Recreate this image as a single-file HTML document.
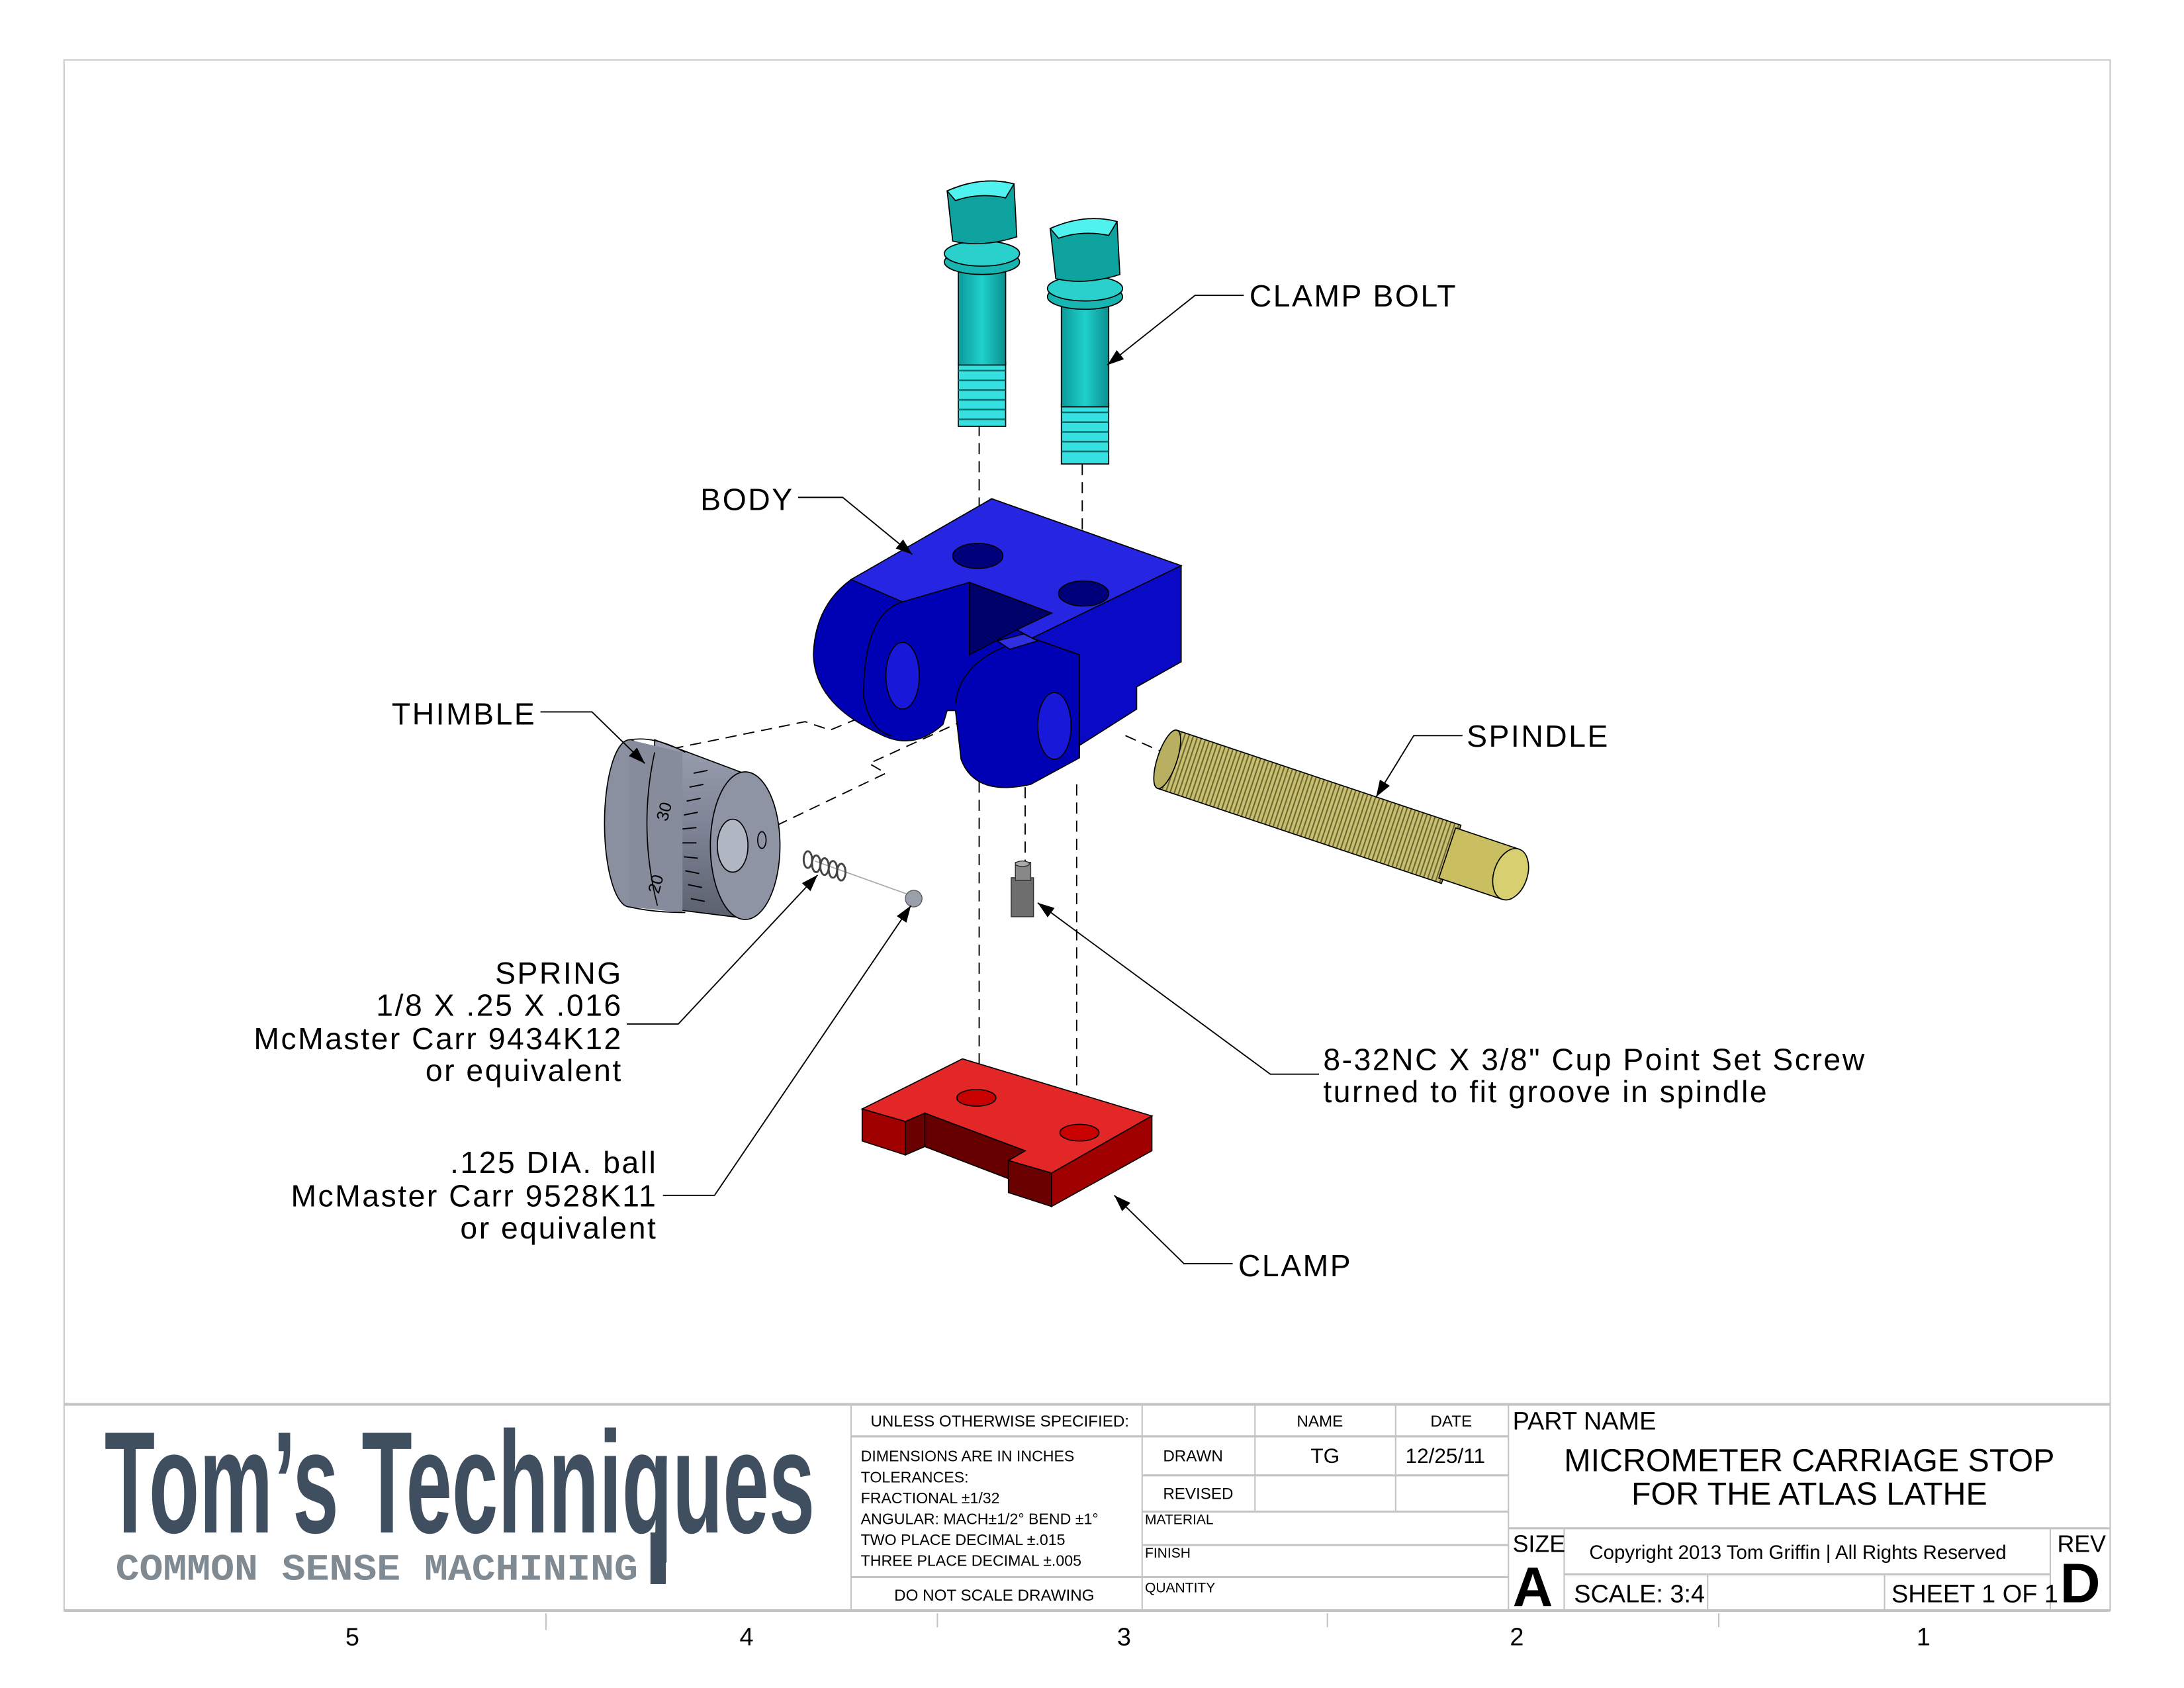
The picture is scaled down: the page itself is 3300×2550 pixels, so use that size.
<!DOCTYPE html>
<html><head><meta charset="utf-8"><style>html,body{margin:0;padding:0;background:#fff}svg{display:block}</style></head>
<body>
<svg width="3300" height="2550" viewBox="0 0 1568 1211.6" xmlns="http://www.w3.org/2000/svg" font-family="Liberation Sans, sans-serif">
<defs>
<marker id="ar" viewBox="0 0 10 10" refX="10" refY="5" markerWidth="12" markerHeight="12" markerUnits="userSpaceOnUse" orient="auto"><path d="M0,1.5 L10,5 L0,8.5 z" fill="#000"/></marker>
<linearGradient id="cy" x1="0" x2="1"><stop offset="0" stop-color="#0b9a9a"/><stop offset="0.5" stop-color="#1fd0cc"/><stop offset="1" stop-color="#0a8f8f"/></linearGradient>
<linearGradient id="gy" x1="0" x2="0" y1="0" y2="1"><stop offset="0" stop-color="#9aa0b0"/><stop offset="0.5" stop-color="#7d8394"/><stop offset="1" stop-color="#5b606e"/></linearGradient>
<pattern id="thr" width="3" height="10" patternUnits="userSpaceOnUse"><rect width="3" height="10" fill="#c8c070"/><rect width="1" height="10" fill="#6b6530"/></pattern>
</defs>
<rect width="1568" height="1211.6" fill="#fff"/>
<rect x="46" y="43" width="1469" height="1113" fill="none" stroke="#c8c8c8" stroke-width="1"/>

<g stroke="#000" stroke-width="0.9" fill="none" stroke-dasharray="8,5">
<line x1="703" y1="305" x2="703" y2="400"/><line x1="777" y1="333" x2="777" y2="427"/>
<line x1="703" y1="548" x2="703" y2="790"/><line x1="773" y1="563" x2="773" y2="810"/>
<line x1="736" y1="565" x2="736" y2="620"/>
<polyline points="470,540 578,518 596,524 630,510"/>
<polyline points="546,598 636,555 624,548 690,518"/>
<line x1="808" y1="528" x2="835" y2="540"/>
</g>
<line x1="585" y1="618" x2="652" y2="642" stroke="#aaa" stroke-width="0.8"/>

<g stroke="#000" stroke-width="0.8">
<rect x="688" y="260" width="34" height="46" fill="#36e0e0"/>
<g stroke="#0a7070" stroke-width="1.2"><line x1="688" y1="266" x2="722" y2="266"/><line x1="688" y1="273" x2="722" y2="273"/><line x1="688" y1="280" x2="722" y2="280"/><line x1="688" y1="287" x2="722" y2="287"/><line x1="688" y1="294" x2="722" y2="294"/><line x1="688" y1="301" x2="722" y2="301"/></g>
<rect x="688" y="190" width="34" height="72" fill="url(#cy)"/>
<ellipse cx="705" cy="188" rx="27" ry="9" fill="#17b5b2"/>
<ellipse cx="705" cy="182" rx="27" ry="9" fill="#2ad0cc"/>
<path d="M680,137 Q705,126 728,132 L730,170 Q705,178 684,173 Z" fill="#0fa3a0"/>
<path d="M680,137 Q705,126 728,132 L722,142 Q703,138 686,144 Z" fill="#4ff2ee"/>
</g>
<g stroke="#000" stroke-width="0.8">
<rect x="762" y="290" width="34" height="43" fill="#36e0e0"/>
<g stroke="#0a7070" stroke-width="1.2"><line x1="762" y1="296" x2="796" y2="296"/><line x1="762" y1="303" x2="796" y2="303"/><line x1="762" y1="310" x2="796" y2="310"/><line x1="762" y1="317" x2="796" y2="317"/><line x1="762" y1="324" x2="796" y2="324"/></g>
<rect x="762" y="216" width="34" height="76" fill="url(#cy)"/>
<ellipse cx="779" cy="213" rx="27" ry="9" fill="#17b5b2"/>
<ellipse cx="779" cy="207" rx="27" ry="9" fill="#2ad0cc"/>
<path d="M754,164 Q779,153 802,159 L804,197 Q779,205 758,200 Z" fill="#0fa3a0"/>
<path d="M754,164 Q779,153 802,159 L796,169 Q777,165 760,171 Z" fill="#4ff2ee"/>
</g>

<g stroke="#000" stroke-width="0.8">
<path d="M611,416 L712,358 L848,406 L848,475 L816,493 L816,509 L775,535 L775,544 L740,563 Q700,572 690,545 L686,510 L680,510 L677,520 Q655,540 630,526 Q585,505 584,470 Q585,435 611,416 Z" fill="#0000b4"/>
<path d="M611,416 L712,358 L848,406 L741,458 L730,452 L755,440 L696,418 L648,432 Z" fill="#2626e2"/>
<path d="M848,406 L848,475 L816,493 L816,509 L775,535 L775,470 L741,458 Z" fill="#0a0ac6"/>
<path d="M696,418 L755,440 L730,452 L696,470 Z" fill="#00006a"/>
<path d="M686,505 Q690,470 741,458 L775,470 L775,535" fill="none"/>
<path d="M648,432 Q620,440 620,500 Q625,525 640,528" fill="none"/>
<ellipse cx="702" cy="399" rx="18" ry="9" fill="#00007a"/>
<ellipse cx="778" cy="426" rx="18" ry="9" fill="#00007a"/>
<ellipse cx="648" cy="485" rx="12" ry="24" fill="#1818d8"/>
<ellipse cx="757" cy="521" rx="12" ry="24" fill="#1818d8"/>
<path d="M716,460 L735,455 L745,460 L725,466 Z" fill="#3030e0"/>
</g>

<g transform="translate(838,545) rotate(18.5)" stroke="#000" stroke-width="0.8">
<rect x="0" y="-22" width="215" height="44" fill="url(#thr)"/>
<rect x="212" y="-19" width="48" height="38" fill="#c9bf60"/>
<ellipse cx="0" cy="0" rx="7" ry="22" fill="#b8b060"/>
<ellipse cx="260" cy="0" rx="12" ry="19" fill="#d8d070"/>
</g>

<g stroke="#000" stroke-width="0.8">
<path d="M470,531 L534,555 L534,659 L470,651 Z" fill="url(#gy)"/>
<ellipse cx="452" cy="591" rx="18" ry="60" fill="#8a90a0"/>
<path d="M452,531 L490,540 L490,655 L452,651 Z" fill="#868c9c" stroke="none"/>
<path d="M452,531 Q470,528 492,540 M452,651 Q470,655 492,655" fill="none"/>
<path d="M470,540 Q458,595 472,650" fill="none"/>
<ellipse cx="535" cy="607" rx="25" ry="53" fill="#8e94a4"/>
<ellipse cx="526" cy="607" rx="11" ry="19" fill="#b0b6c2"/>
<ellipse cx="547" cy="603" rx="3" ry="6" fill="none"/>
<g stroke-width="0.9"><line x1="498" y1="555" x2="508" y2="553"/><line x1="495" y1="565" x2="505" y2="563"/><line x1="493" y1="575" x2="503" y2="573"/><line x1="491" y1="585" x2="501" y2="583"/><line x1="490" y1="595" x2="500" y2="594"/><line x1="490" y1="605" x2="500" y2="605"/><line x1="491" y1="615" x2="501" y2="616"/><line x1="492" y1="625" x2="502" y2="627"/><line x1="494" y1="635" x2="504" y2="637"/><line x1="496" y1="645" x2="506" y2="647"/></g>
<text x="0" y="0" font-size="12" transform="translate(479,590) rotate(-75)" fill="#000" stroke="none">30</text>
<text x="0" y="0" font-size="12" transform="translate(473,642) rotate(-75)" fill="#000" stroke="none">20</text>
</g>
<g stroke="#444" stroke-width="1.4" fill="none">
<ellipse cx="580" cy="617" rx="3" ry="6"/><ellipse cx="586" cy="620" rx="3" ry="6"/><ellipse cx="592" cy="622" rx="3" ry="6"/><ellipse cx="598" cy="624" rx="3" ry="6"/><ellipse cx="604" cy="626" rx="3" ry="6"/>
</g>
<circle cx="656" cy="645" r="6" fill="#9aa0aa" stroke="#555" stroke-width="0.6"/>
<g stroke="#333" stroke-width="0.7">
<rect x="726" y="630" width="16" height="28" fill="#6e6e6e"/>
<rect x="729" y="619" width="11" height="13" fill="#888"/>
<ellipse cx="734" cy="620" rx="5" ry="2" fill="#aaa"/>
</g>

<g stroke="#000" stroke-width="0.8">
<path d="M619,796 L691,760 L827,801 L755,842 L724,833 L736,826 L664,799 L650,805 Z" fill="#e32626"/>
<path d="M619,796 L650,805 L650,829 L619,819 Z" fill="#a00000"/>
<path d="M650,805 L664,799 L664,823 L650,829 Z" fill="#6a0000"/>
<path d="M664,799 L736,826 L724,833 L724,846 L664,823 Z" fill="#660000"/>
<path d="M724,833 L755,842 L755,866 L724,856 Z" fill="#6a0000"/>
<path d="M755,842 L827,801 L827,826 L755,866 Z" fill="#a00000"/>
<ellipse cx="701" cy="788" rx="14" ry="6" fill="#c80000"/>
<ellipse cx="775" cy="813" rx="14" ry="6" fill="#c80000"/>
</g>

<g stroke="#000" stroke-width="0.9" fill="none" marker-end="url(#ar)">
<polyline points="893,212 858,212 795,262"/>
<polyline points="573,357 605,357 655,398"/>
<polyline points="388,511 425,511 463,548"/>
<polyline points="1050,528 1015,528 988,572"/>
<polyline points="450,735 487,735 587,628"/>
<polyline points="476,858 513,858 654,650"/>
<polyline points="947,771 912,771 745,648"/>
<polyline points="885,907 850,907 800,858"/>
</g>

<g font-size="22" fill="#000" letter-spacing="1.2">
<text x="897" y="220">CLAMP BOLT</text>
<text x="570" y="366" text-anchor="end">BODY</text>
<text x="385" y="520" text-anchor="end">THIMBLE</text>
<text x="1053" y="536">SPINDLE</text>
<text x="447" y="706" text-anchor="end">SPRING</text>
<text x="447" y="729" text-anchor="end">1/8 X .25 X .016</text>
<text x="447" y="753" text-anchor="end">McMaster Carr 9434K12</text>
<text x="447" y="776" text-anchor="end">or equivalent</text>
<text x="472" y="842" text-anchor="end">.125 DIA. ball</text>
<text x="472" y="866" text-anchor="end">McMaster Carr 9528K11</text>
<text x="472" y="889" text-anchor="end">or equivalent</text>
<text x="950" y="768">8-32NC X 3/8" Cup Point Set Screw</text>
<text x="950" y="791">turned to fit groove in spindle</text>
<text x="889" y="916">CLAMP</text>
</g>

<g stroke="#c4c4c4" fill="none">
<line x1="46" y1="1008" x2="1515" y2="1008" stroke-width="2"/>
<line x1="46" y1="1156" x2="1515" y2="1156" stroke-width="2"/>
<line x1="611" y1="1008" x2="611" y2="1156"/>
<line x1="820" y1="1008" x2="820" y2="1156"/>
<line x1="901" y1="1008" x2="901" y2="1085"/>
<line x1="1002" y1="1008" x2="1002" y2="1085"/>
<line x1="1083" y1="1008" x2="1083" y2="1156"/>
<line x1="611" y1="1031" x2="1083" y2="1031" stroke-width="1.5"/>
<line x1="820" y1="1059" x2="1083" y2="1059" stroke-width="1.5"/>
<line x1="820" y1="1085" x2="1083" y2="1085" stroke-width="1.5"/>
<line x1="820" y1="1109" x2="1083" y2="1109" stroke-width="1.5"/>
<line x1="611" y1="1132" x2="1083" y2="1132" stroke-width="1.5"/>
<line x1="1083" y1="1097" x2="1515" y2="1097" stroke-width="1.5"/>
<line x1="1123" y1="1097" x2="1123" y2="1156"/>
<line x1="1123" y1="1130" x2="1472" y2="1130" stroke-width="1.5"/>
<line x1="1226" y1="1130" x2="1226" y2="1156"/>
<line x1="1353" y1="1130" x2="1353" y2="1156"/>
<line x1="1472" y1="1097" x2="1472" y2="1156"/>
<line x1="1515" y1="1008" x2="1515" y2="1156"/>
<line x1="392" y1="1158" x2="392" y2="1170"/><line x1="673" y1="1158" x2="673" y2="1168"/><line x1="953" y1="1158" x2="953" y2="1168"/><line x1="1234" y1="1158" x2="1234" y2="1168"/>
</g>
<text x="75" y="1100" font-family="Liberation Sans Narrow, Liberation Sans, sans-serif" font-weight="bold" font-size="104" fill="#3f4f60" textLength="510" lengthAdjust="spacingAndGlyphs">Tom’s Techniques</text>
<text x="83" y="1134" font-family="Liberation Mono, monospace" font-weight="bold" font-size="27" fill="#7f8a93" textLength="375" lengthAdjust="spacingAndGlyphs">COMMON SENSE MACHINING</text>
<rect x="467" y="1100" width="11" height="37" fill="#3f4f60"/>
<g font-size="11.5" fill="#000">
<text x="625" y="1024">UNLESS OTHERWISE SPECIFIED:</text>
<text x="931" y="1024">NAME</text><text x="1027" y="1024">DATE</text>
<text x="618" y="1049" font-size="11">DIMENSIONS ARE IN INCHES</text>
<text x="618" y="1064" font-size="11">TOLERANCES:</text>
<text x="618" y="1079" font-size="11">FRACTIONAL ±1/32</text>
<text x="618" y="1094" font-size="11">ANGULAR: MACH±1/2°  BEND ±1°</text>
<text x="618" y="1109" font-size="11">TWO PLACE DECIMAL   ±.015</text>
<text x="618" y="1124" font-size="11">THREE PLACE DECIMAL ±.005</text>
<text x="642" y="1149">DO NOT SCALE DRAWING</text>
<text x="835" y="1049">DRAWN</text><text x="941" y="1050" font-size="15">TG</text><text x="1009" y="1050" font-size="15">12/25/11</text>
<text x="835" y="1076">REVISED</text>
<text x="822" y="1094" font-size="10">MATERIAL</text>
<text x="822" y="1118" font-size="10">FINISH</text>
<text x="822" y="1143" font-size="10">QUANTITY</text>
</g>
<text x="1086" y="1026" font-size="18">PART NAME</text>
<text x="1299" y="1056" font-size="23" text-anchor="middle">MICROMETER CARRIAGE STOP</text>
<text x="1299" y="1080" font-size="23" text-anchor="middle">FOR THE ATLAS LATHE</text>
<text x="1086" y="1114" font-size="17">SIZE</text>
<text x="1086" y="1153" font-size="40" font-weight="bold">A</text>
<text x="1141" y="1119" font-size="14">Copyright 2013 Tom Griffin | All Rights Reserved</text>
<text x="1130" y="1150" font-size="18">SCALE: 3:4</text>
<text x="1358" y="1150" font-size="18">SHEET 1 OF 1</text>
<text x="1477" y="1114" font-size="17">REV</text>
<text x="1479" y="1150" font-size="40" font-weight="bold">D</text>
<g font-size="18" fill="#000" text-anchor="middle">
<text x="253" y="1181">5</text><text x="536" y="1181">4</text><text x="807" y="1181">3</text><text x="1089" y="1181">2</text><text x="1381" y="1181">1</text>
</g>
</svg>
</body></html>
